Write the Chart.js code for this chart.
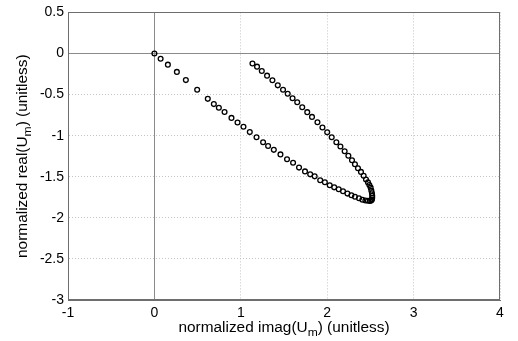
<!DOCTYPE html>
<html>
<head>
<meta charset="utf-8">
<script src="https://cdn.jsdelivr.net/npm/chart.js@4/dist/chart.umd.min.js"></script>
<style>
  html, body { margin: 0; padding: 0; background: #fff; }
  #wrap { width: 518px; height: 341px; }
</style>
</head>
<body>
<div id="wrap"><canvas id="chart" width="518" height="341"></canvas></div>
<script>
// lower branch: from the origin out to the tip
const lowerX = [0, 0.072, 0.156, 0.260, 0.364, 0.495, 0.618, 0.688, 0.746, 0.812, 0.892, 0.962, 1.031,
  1.104, 1.182, 1.258, 1.316, 1.382, 1.459, 1.535, 1.605, 1.674, 1.743, 1.803, 1.855, 1.919, 1.973,
  2.029, 2.081, 2.133, 2.183, 2.234, 2.280, 2.321, 2.368, 2.407, 2.442, 2.472, 2.495, 2.510];
const lowerY = [0, -0.064, -0.136, -0.224, -0.324, -0.441, -0.552, -0.616, -0.660, -0.712, -0.784, -0.840, -0.891,
  -0.957, -1.020, -1.080, -1.125, -1.173, -1.228, -1.288, -1.329, -1.389, -1.435, -1.471, -1.495, -1.543, -1.567,
  -1.603, -1.629, -1.653, -1.677, -1.705, -1.725, -1.744, -1.761, -1.780, -1.789, -1.792, -1.794, -1.789];

// upper branch: from the tip back up to the end
const upperX = [2.518, 2.521, 2.521, 2.518, 2.511, 2.503, 2.488, 2.472, 2.449, 2.422, 2.391, 2.356, 2.321,
  2.287, 2.245, 2.202, 2.153, 2.106, 2.052, 2.000, 1.945, 1.887, 1.824, 1.769, 1.711, 1.653, 1.599,
  1.543, 1.489, 1.428, 1.366, 1.304, 1.243, 1.188, 1.135];
const upperY = [-1.777, -1.756, -1.732, -1.701, -1.669, -1.633, -1.601, -1.569, -1.533, -1.489, -1.441, -1.396, -1.348,
  -1.300, -1.245, -1.189, -1.132, -1.080, -1.020, -0.960, -0.900, -0.837, -0.772, -0.714, -0.654, -0.594, -0.544,
  -0.490, -0.441, -0.388, -0.325, -0.270, -0.214, -0.160, -0.122];

const xTicks = [-1, 0, 1, 2, 3, 4];
const xTickLabels = ['-1', '0', '1', '2', '3', '4'];
const yTicks = [-3, -2.5, -2, -1.5, -1, -0.5, 0, 0.5];
const yTickLabels = ['-3', '-2.5', '-2', '-1.5', '-1', '-0.5', '0', '0.5'];

const FONT = 'Liberation Sans, Arial, sans-serif';

const points = lowerX.map((x, i) => ({ x: x, y: lowerY[i] }))
  .concat(upperX.map((x, i) => ({ x: x, y: upperY[i] })));

const gridColor = ctx => (ctx.tick && ctx.tick.value === 0) ? '#8a8a8a' : '#c4c4c4';
const gridDash = ctx => (ctx.tick && ctx.tick.value === 0) ? [] : [1, 2];

// box round the plot + axis titles with subscript m
const framePlugin = {
  id: 'frame',
  afterDraw(chart) {
    const { ctx, chartArea: a } = chart;
    ctx.save();
    ctx.strokeStyle = '#6e6e6e';
    ctx.lineWidth = 1;
    ctx.strokeRect(Math.round(a.left) + 0.5, Math.round(a.top) + 0.5,
      Math.round(a.right - a.left) - 1, Math.round(a.bottom - a.top) - 1);

    const drawTitle = (pre, sub, post) => {
      ctx.font = '14px ' + FONT;
      const w1 = ctx.measureText(pre).width;
      const w3 = ctx.measureText(post).width;
      ctx.font = '11px ' + FONT;
      const w2 = ctx.measureText(sub).width;
      let x = -(w1 + w2 + w3) / 2;
      ctx.fillStyle = '#000';
      ctx.textBaseline = 'alphabetic';
      ctx.textAlign = 'left';
      ctx.font = '14px ' + FONT;
      ctx.fillText(pre, x, 0);
      x += w1;
      ctx.font = '11px ' + FONT;
      ctx.fillText(sub, x, 4);
      x += w2;
      ctx.font = '14px ' + FONT;
      ctx.fillText(post, x, 0);
    };

    ctx.save();
    ctx.translate((a.left + a.right) / 2, 332);
    ctx.scale(1.1, 1);
    drawTitle('normalized imag(U', 'm', ') (unitless)');
    ctx.restore();

    ctx.save();
    ctx.translate(27, (a.top + a.bottom) / 2);
    ctx.rotate(-Math.PI / 2);
    ctx.scale(1.1, 1);
    drawTitle('normalized real(U', 'm', ') (unitless)');
    ctx.restore();

    ctx.restore();
  }
};

new Chart(document.getElementById('chart'), {
  type: 'scatter',
  data: {
    datasets: [{
      data: points,
      pointStyle: 'circle',
      pointRadius: 2.4,
      pointBorderWidth: 1.3,
      pointBorderColor: '#000',
      pointBackgroundColor: 'rgba(255,255,255,0)',
      showLine: false
    }]
  },
  options: {
    responsive: false,
    animation: false,
    devicePixelRatio: 1,
    layout: { padding: { left: 0, right: 18, top: 9, bottom: 0 } },
    plugins: { legend: { display: false }, tooltip: { enabled: false } },
    scales: {
      x: {
        type: 'linear',
        min: -1,
        max: 4,
        afterBuildTicks: s => { s.ticks = xTicks.map(v => ({ value: v })); },
        afterFit: s => { s.height = 41; },
        ticks: {
          autoSkip: false,
          maxRotation: 0,
          padding: 5,
          color: '#000',
          font: { family: FONT, size: 14 },
          callback: v => xTickLabels[xTicks.indexOf(v)]
        },
        grid: { color: gridColor, lineWidth: 1, drawTicks: false },
        border: { display: true, color: '#6e6e6e', dash: gridDash }
      },
      y: {
        type: 'linear',
        min: -3,
        max: 0.5,
        afterBuildTicks: s => { s.ticks = yTicks.map(v => ({ value: v })); },
        afterFit: s => { s.width = 68; },
        ticks: {
          autoSkip: false,
          padding: 4,
          color: '#000',
          font: { family: FONT, size: 14 },
          callback: v => yTickLabels[yTicks.indexOf(v)]
        },
        grid: { color: gridColor, lineWidth: 1, drawTicks: false },
        border: { display: true, color: '#6e6e6e', dash: gridDash }
      }
    }
  },
  plugins: [framePlugin]
});
</script>
</body>
</html>
